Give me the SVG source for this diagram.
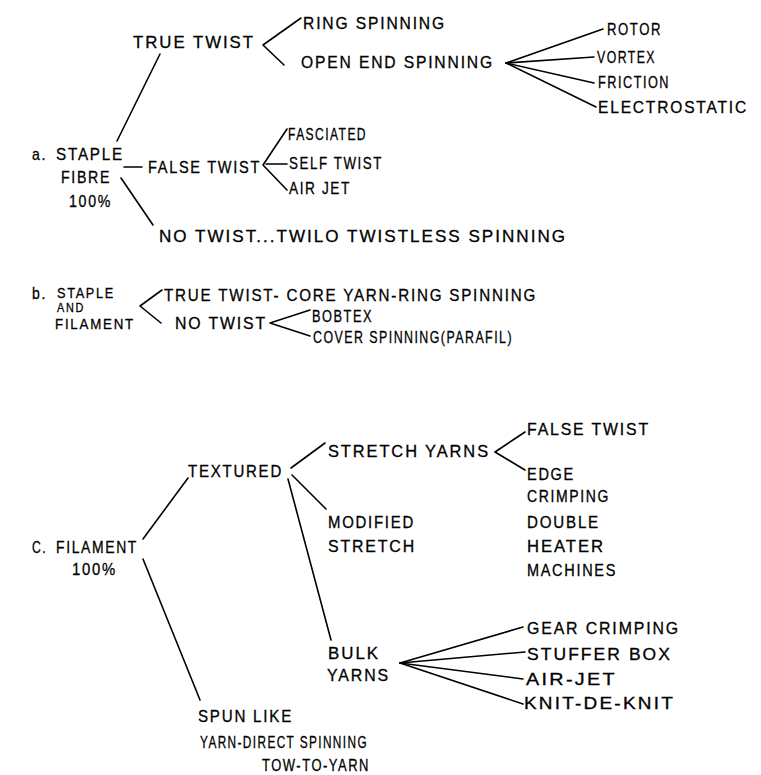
<svg xmlns="http://www.w3.org/2000/svg" width="761" height="775" viewBox="0 0 761 775">
<style>
text{font-family:"Liberation Sans",Arial,sans-serif;font-size:17px;fill:#000;stroke:#000;stroke-width:0.3;letter-spacing:2px}
.s{font-size:15px}
.t{font-size:13px}
.c line,.c polyline{stroke:#000;stroke-width:1.6;fill:none;stroke-linecap:round;stroke-linejoin:round}
</style>
<rect width="761" height="775" fill="#fff"/>
<g class="c" id="connectors">
<line x1="117" y1="141" x2="160" y2="54"/>
<line x1="124" y1="167" x2="142" y2="167"/>
<line x1="121" y1="178" x2="153" y2="225"/>
<polyline points="301,18 263,45 284,65"/>
<line x1="506" y1="63" x2="603" y2="29"/>
<line x1="506" y1="63" x2="594" y2="57"/>
<line x1="506" y1="63" x2="594" y2="83"/>
<line x1="506" y1="63" x2="596" y2="107"/>
<polyline points="287,129 263,165 287,190"/>
<line x1="266" y1="164" x2="287" y2="164"/>
<polyline points="162,290 140,306 161,323"/>
<polyline points="310,310 270,323 310,336"/>
<line x1="143" y1="539" x2="188" y2="478"/>
<line x1="143" y1="559" x2="200" y2="700"/>
<line x1="291" y1="468" x2="325" y2="443"/>
<line x1="292" y1="475" x2="326" y2="509"/>
<line x1="288" y1="479" x2="331" y2="640"/>
<polyline points="525,432 495,452 525,470"/>
<line x1="400" y1="663" x2="523" y2="627"/>
<line x1="400" y1="663" x2="525" y2="652"/>
<line x1="400" y1="663" x2="523" y2="679"/>
<line x1="400" y1="663" x2="523" y2="704"/>
</g>
<g id="a-staple-fibre">
<text x="32" y="160" textLength="15" lengthAdjust="spacingAndGlyphs">a.</text>
<text x="56" y="160" textLength="68" lengthAdjust="spacingAndGlyphs">STAPLE</text>
<text x="61" y="183" textLength="50" lengthAdjust="spacingAndGlyphs">FIBRE</text>
<text x="69" y="207" textLength="43" lengthAdjust="spacingAndGlyphs">100%</text>
</g>
<g id="a-true-twist"><text x="133" y="48" textLength="122" lengthAdjust="spacingAndGlyphs">TRUE TWIST</text></g>
<g id="a-ring"><text x="303" y="29" textLength="143" lengthAdjust="spacingAndGlyphs">RING SPINNING</text></g>
<g id="a-open-end"><text x="301" y="68" textLength="193" lengthAdjust="spacingAndGlyphs">OPEN END SPINNING</text></g>
<g id="a-rotor"><text x="607" y="35" textLength="55" lengthAdjust="spacingAndGlyphs">ROTOR</text></g>
<g id="a-vortex"><text x="597" y="63" textLength="59" lengthAdjust="spacingAndGlyphs">VORTEX</text></g>
<g id="a-friction"><text x="598" y="88" textLength="72" lengthAdjust="spacingAndGlyphs">FRICTION</text></g>
<g id="a-electrostatic"><text x="598" y="113" textLength="150" lengthAdjust="spacingAndGlyphs">ELECTROSTATIC</text></g>
<g id="a-false-twist"><text x="148" y="173" textLength="113" lengthAdjust="spacingAndGlyphs">FALSE TWIST</text></g>
<g id="a-fasciated"><text x="288" y="140" textLength="79" lengthAdjust="spacingAndGlyphs">FASCIATED</text></g>
<g id="a-self-twist"><text x="289" y="169" textLength="94" lengthAdjust="spacingAndGlyphs">SELF TWIST</text></g>
<g id="a-air-jet"><text x="289" y="194" textLength="62" lengthAdjust="spacingAndGlyphs">AIR JET</text></g>
<g id="a-no-twist"><text x="159" y="242" textLength="408" lengthAdjust="spacingAndGlyphs">NO TWIST...TWILO TWISTLESS SPINNING</text></g>
<g id="b-staple-filament">
<text x="32" y="299" textLength="15" lengthAdjust="spacingAndGlyphs">b.</text>
<text class="s" x="57" y="298" textLength="58" lengthAdjust="spacingAndGlyphs">STAPLE</text>
<text class="t" x="57" y="312" textLength="28" lengthAdjust="spacingAndGlyphs">AND</text>
<text class="s" x="55" y="329" textLength="80" lengthAdjust="spacingAndGlyphs">FILAMENT</text>
</g>
<g id="b-true-twist"><text x="164" y="301" textLength="373" lengthAdjust="spacingAndGlyphs">TRUE TWIST- CORE YARN-RING SPINNING</text></g>
<g id="b-no-twist"><text x="175" y="329" textLength="92" lengthAdjust="spacingAndGlyphs">NO TWIST</text></g>
<g id="b-bobtex"><text x="312" y="322" textLength="61" lengthAdjust="spacingAndGlyphs">BOBTEX</text></g>
<g id="b-cover"><text x="313" y="343" textLength="200" lengthAdjust="spacingAndGlyphs">COVER SPINNING(PARAFIL)</text></g>
<g id="c-filament">
<text x="32" y="553" textLength="15" lengthAdjust="spacingAndGlyphs">C.</text>
<text x="56" y="553" textLength="82" lengthAdjust="spacingAndGlyphs">FILAMENT</text>
<text x="72" y="575" textLength="45" lengthAdjust="spacingAndGlyphs">100%</text>
</g>
<g id="c-textured"><text x="188" y="477" textLength="95" lengthAdjust="spacingAndGlyphs">TEXTURED</text></g>
<g id="c-stretch-yarns"><text x="328" y="457" textLength="162" lengthAdjust="spacingAndGlyphs">STRETCH YARNS</text></g>
<g id="c-false-twist"><text x="527" y="435" textLength="123" lengthAdjust="spacingAndGlyphs">FALSE TWIST</text></g>
<g id="c-edge-crimping">
<text x="527" y="480" textLength="48" lengthAdjust="spacingAndGlyphs">EDGE</text>
<text x="527" y="502" textLength="83" lengthAdjust="spacingAndGlyphs">CRIMPING</text>
</g>
<g id="c-double-heater">
<text x="527" y="528" textLength="73" lengthAdjust="spacingAndGlyphs">DOUBLE</text>
<text x="527" y="552" textLength="78" lengthAdjust="spacingAndGlyphs">HEATER</text>
<text x="527" y="576" textLength="90" lengthAdjust="spacingAndGlyphs">MACHINES</text>
</g>
<g id="c-modified">
<text x="328" y="528" textLength="87" lengthAdjust="spacingAndGlyphs">MODIFIED</text>
<text x="328" y="552" textLength="88" lengthAdjust="spacingAndGlyphs">STRETCH</text>
</g>
<g id="c-bulk">
<text x="328" y="659" textLength="52" lengthAdjust="spacingAndGlyphs">BULK</text>
<text x="327" y="681" textLength="63" lengthAdjust="spacingAndGlyphs">YARNS</text>
</g>
<g id="c-gear"><text x="527" y="634" textLength="153" lengthAdjust="spacingAndGlyphs">GEAR CRIMPING</text></g>
<g id="c-stuffer"><text x="527" y="660" textLength="145" lengthAdjust="spacingAndGlyphs">STUFFER BOX</text></g>
<g id="c-air-jet"><text x="526" y="685" textLength="91" lengthAdjust="spacingAndGlyphs">AIR-JET</text></g>
<g id="c-knit"><text x="524" y="709" textLength="151" lengthAdjust="spacingAndGlyphs">KNIT-DE-KNIT</text></g>
<g id="c-spun">
<text x="198" y="722" textLength="95" lengthAdjust="spacingAndGlyphs">SPUN LIKE</text>
<text x="200" y="748" textLength="168" lengthAdjust="spacingAndGlyphs">YARN-DIRECT SPINNING</text>
<text x="262" y="771" textLength="108" lengthAdjust="spacingAndGlyphs">TOW-TO-YARN</text>
</g>
</svg>
